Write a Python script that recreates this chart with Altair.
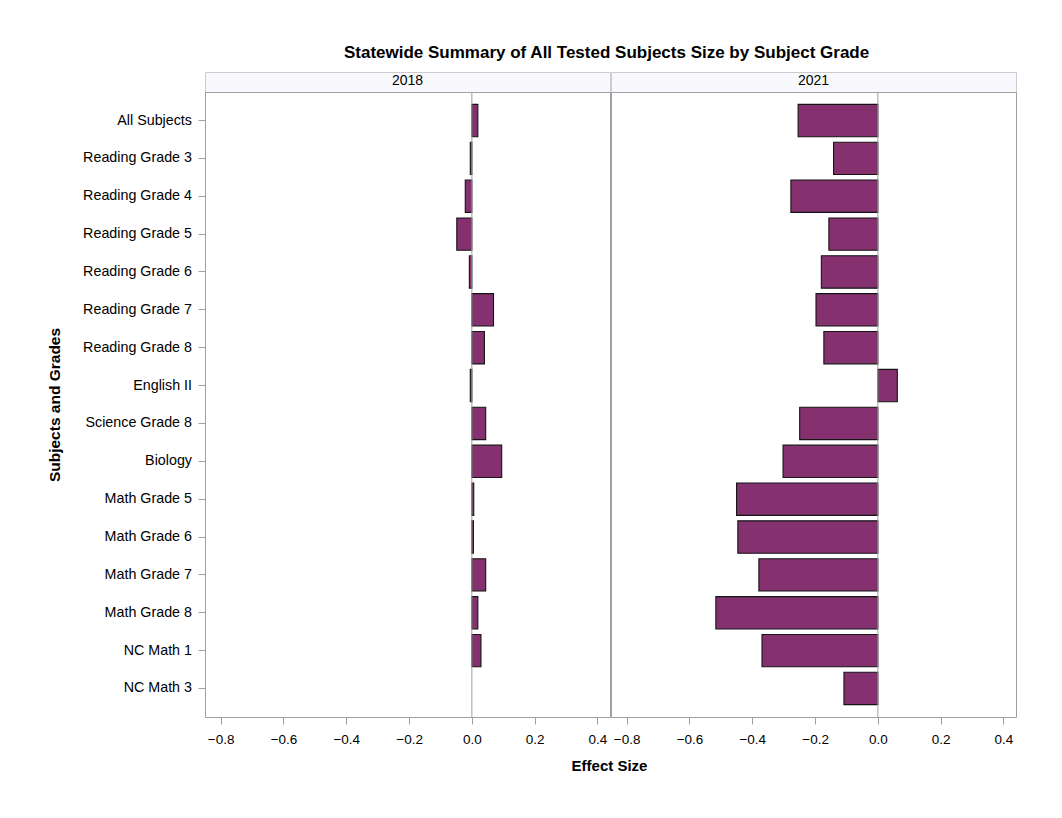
import altair as alt
import pandas as pd

subjects = [
    "All Subjects", "Reading Grade 3", "Reading Grade 4", "Reading Grade 5",
    "Reading Grade 6", "Reading Grade 7", "Reading Grade 8", "English II",
    "Science Grade 8", "Biology", "Math Grade 5", "Math Grade 6",
    "Math Grade 7", "Math Grade 8", "NC Math 1", "NC Math 3",
]
years = ["2018", "2021"]
effect_2018 = [0.019, -0.005, -0.021, -0.048, -0.008, 0.069, 0.040, -0.005,
               0.044, 0.095, 0.006, 0.005, 0.044, 0.019, 0.029, None]
effect_2021 = [-0.254, -0.141, -0.277, -0.156, -0.180, -0.197, -0.172, 0.062,
               -0.249, -0.302, -0.450, -0.446, -0.379, -0.516, -0.369, -0.108]
x_ticks = [-0.8, -0.6, -0.4, -0.2, 0.0, 0.2, 0.4]
x_domain = [-0.85, 0.44]
zero_line = [0.0]

rows = []
for s, v in zip(subjects, effect_2018):
    rows.append({"subject": s, "year": "2018", "effect": v})
for s, v in zip(subjects, effect_2021):
    rows.append({"subject": s, "year": "2021", "effect": v})
df = pd.DataFrame(rows)
zero_df = pd.DataFrame({"effect": zero_line})
hdr_df = pd.DataFrame({"year": years})

FONT = "Liberation Sans"
FILL = "#853170"
GRAY = "#a0a0a0"
W = 405
H = 625
HH = 20


def header(year):
    return (
        alt.Chart(hdr_df)
        .transform_filter(alt.datum.year == year)
        .mark_text(font=FONT, fontSize=14, color="black", baseline="middle", align="center")
        .encode(text="year:N", x=alt.value(W / 2), y=alt.value(HH / 2 - 1.5))
        .properties(width=W, height=HH,
                    view=alt.ViewBackground(fill="#f8f8fd", stroke="#cccccc"))
    )


def panel(year, first):
    xenc = alt.X(
        "effect:Q",
        scale=alt.Scale(domain=x_domain, nice=False, zero=False),
        axis=alt.Axis(
            values=x_ticks, format=".1f", grid=False, domain=False,
            tickSize=7, tickColor=GRAY, labelPadding=8, labelFlush=False,
            labelFont=FONT, labelFontSize=13.5, labelColor="black",
            title="Effect Size" if first else None,
            titleFont=FONT, titleFontSize=15, titleFontWeight="bold",
            titleColor="black", titlePadding=13, titleX=W - 1,
        ),
    )
    if first:
        yaxis = alt.Axis(
            domain=False, tickSize=7, tickColor=GRAY, labelPadding=6.5,
            labelFont=FONT, labelFontSize=14.3, labelColor="black",
            title="Subjects and Grades", titleFont=FONT, titleFontSize=15.5,
            titleFontWeight="bold", titleColor="black", titlePadding=20.5,
        )
    else:
        yaxis = None
    yenc = alt.Y(
        "subject:N", sort=subjects,
        scale=alt.Scale(domain=subjects, paddingInner=0.146, paddingOuter=0.326),
        axis=yaxis,
    )
    bars = (
        alt.Chart(df)
        .transform_filter(alt.datum.year == year)
        .mark_bar(color=FILL, stroke="#141414", strokeWidth=1.1)
        .encode(x=xenc, y=yenc)
    )
    zero = alt.Chart(zero_df).mark_rule(color=GRAY, strokeWidth=1).encode(x=xenc)
    return alt.layer(bars, zero).properties(
        width=W, height=H, view=alt.ViewBackground(stroke=GRAY, strokeWidth=1)
    )


chart = alt.concat(
    header("2018"), header("2021"), panel("2018", True), panel("2021", False),
    columns=2, spacing={"row": 0, "column": 1}, bounds="flush",
    title=alt.Title(
        "Statewide Summary of All Tested Subjects Size by Subject Grade",
        font=FONT, fontSize=17, fontWeight="bold", color="black",
        anchor="middle", offset=10, dx=75,
    ),
).properties(
    padding={"left": 38, "top": 35, "right": 30, "bottom": 20},
    background="white",
).configure_view(strokeWidth=1)

chart.save("out.html", embed_options={"renderer": "svg", "actions": False})
